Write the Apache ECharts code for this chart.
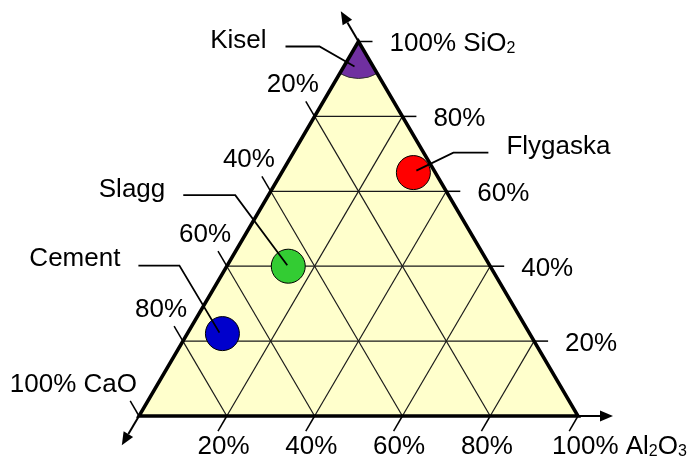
<!DOCTYPE html>
<html><head><meta charset="utf-8">
<script src="https://cdn.jsdelivr.net/npm/echarts@6/dist/echarts.min.js"></script>
<style>html,body{margin:0;padding:0;background:#fff}#c{width:692px;height:459px}</style>
</head><body><div id="c"></div>
<script>
// ---- data ----
const sampleNames = ['Kisel', 'Flygaska', 'Slagg', 'Cement'];
const sio2Values  = [100, 65, 40, 22];
const al2o3Values = [0, 30, 14, 8];
const caoValues   = [0, 5, 46, 70];
const gridLevels  = [20, 40, 60, 80];
const tickLabels  = ['20%', '40%', '60%', '80%'];
const cornerLabels = ['100% SiO{s|2}', '100% Al{s|2}O{s|3}', '100% CaO'];

// ---- styles / layout ----
const sampleColors = ['#7030A0', '#FF0000', '#33CC33', '#0000CC'];
const FONT = "'Liberation Sans', Arial, sans-serif";
const FS = 26;
const leaderLayout = [
  { pts: [[-4, 25], [-39, 5], [-73, 5]], label: [-92, -0.5], align: 'right' },
  { pts: [[3, -2], [40, -20], [75, -20]], label: [93, -26], align: 'left' },
  { pts: [[-1, -1], [-53, -71], [-105, -71]], label: [-123, -76], align: 'right' },
  { pts: [[-3, -1], [-43, -68], [-84, -68]], label: [-102, -75], align: 'right' }
];

// ternary (SiO2, Al2O3) -> cartesian
function tern(s, a) { return [a / 100 + s / 200, s / 100]; }
function unit(p, q) { const dx = q[0] - p[0], dy = q[1] - p[1]; const d = Math.hypot(dx, dy); return [dx / d, dy / d]; }
function add(p, u, l) { return [p[0] + u[0] * l, p[1] + u[1] * l]; }
function seg(p, q, style) { return { type: 'line', shape: { x1: p[0], y1: p[1], x2: q[0], y2: q[1] }, style: style }; }
function txt(x, y, text, align, va) {
  return { type: 'text', style: { x: x, y: y, text: text, fill: '#000', fontSize: FS, fontFamily: FONT,
    align: align, verticalAlign: va || 'middle',
    rich: { s: { fontSize: 16, fontFamily: FONT, fill: '#000', verticalAlign: 'bottom' } } } };
}
function corners(api) {
  return { A: api.coord(tern(100, 0)), L: api.coord(tern(0, 0)), R: api.coord(tern(0, 100)) };
}

function renderBack(params, api) {
  const c = corners(api);
  const kids = [{ type: 'polygon', shape: { points: [c.A, c.L, c.R] }, style: { fill: '#FFFFCC' } }];
  const st = { stroke: '#1a1a1a', lineWidth: 1.2 };
  gridLevels.forEach(k => {
    kids.push(seg(api.coord(tern(k, 0)), api.coord(tern(k, 100 - k)), st));
    kids.push(seg(api.coord(tern(0, k)), api.coord(tern(100 - k, k)), st));
    kids.push(seg(api.coord(tern(0, 100 - k)), api.coord(tern(100 - k, 0)), st));
  });
  return { type: 'group', children: kids };
}

function arrow(from, u, len) {
  const tip = add(from, u, len);
  const base = add(tip, u, -13);
  const n = [-u[1], u[0]];
  return [
    seg(from, base, { stroke: '#000', lineWidth: 2 }),
    { type: 'polygon', shape: { points: [tip, add(base, n, 5.5), add(base, n, -5.5)] }, style: { fill: '#000' } }
  ];
}

function renderFront(params, api) {
  const c = corners(api);
  const kids = [];
  kids.push({ type: 'polygon', shape: { points: [c.A, c.L, c.R] }, style: { fill: 'none', stroke: '#000', lineWidth: 3.5, lineJoin: 'miter' } });
  const uLeftTick = unit(c.R, c.A);   // up-left
  const uBotTick = unit(c.A, c.L);    // down-left
  const tst = { stroke: '#000', lineWidth: 1.5 };
  const levels = gridLevels.concat([100]);
  levels.forEach(k => {
    const pr = api.coord(tern(k, 100 - k));
    kids.push(seg(pr, [pr[0] + 14, pr[1]], tst));
    const pl = api.coord(tern(100 - k, 0));
    kids.push(seg(pl, add(pl, uLeftTick, 17.4), tst));
    const pb = api.coord(tern(0, k));
    kids.push(seg(pb, add(pb, uBotTick, 17.4), tst));
  });
  kids.push.apply(kids, arrow(c.A, uLeftTick, 35));
  kids.push.apply(kids, arrow(c.L, uBotTick, 34));
  kids.push.apply(kids, arrow(c.R, unit(c.L, c.R), 35));
  gridLevels.forEach((k, i) => {
    const pr = api.coord(tern(k, 100 - k));
    kids.push(txt(pr[0] + 31, pr[1] + 2.5, tickLabels[i], 'left'));
    const pl = api.coord(tern(100 - k, 0));
    kids.push(txt(pl[0] - 21.8, pl[1] - 31.5, tickLabels[i], 'center'));
    const pb = api.coord(tern(0, k));
    kids.push(txt(pb[0] - 3.3, pb[1] + 30.5, tickLabels[i], 'center'));
  });
  kids.push(txt(c.A[0] + 31, c.A[1] + 2.5, cornerLabels[0], 'left'));
  kids.push(txt(c.R[0] - 26, c.R[1] + 31, cornerLabels[1], 'left'));
  kids.push(txt(c.L[0] - 2, c.L[1] - 31.5, cornerLabels[2], 'right'));
  return { type: 'group', children: kids };
}

const pointData = sampleNames.map((n, i) => ({
  name: n, value: tern(sio2Values[i], al2o3Values[i]).concat([caoValues[i]]),
  itemStyle: { color: sampleColors[i] }
}));

function renderVertexSample(params, api) {
  const i = params.dataIndex;
  if (sio2Values[i] < 100) return null;
  const c = corners(api);
  const p = api.coord([api.value(0), api.value(1)]);
  const uR = unit(c.A, c.R), uL = unit(c.A, c.L);
  return { type: 'sector', shape: { cx: p[0], cy: p[1], r0: 0, r: 37,
    startAngle: Math.atan2(uR[1], uR[0]), endAngle: Math.atan2(uL[1], uL[0]), clockwise: true },
    style: { fill: sampleColors[i], stroke: '#333', lineWidth: 1 } };
}

function renderLeader(params, api) {
  const i = params.dataIndex;
  const p = api.coord([api.value(0), api.value(1)]);
  const lay = leaderLayout[i];
  const pts = lay.pts.map(q => [p[0] + q[0], p[1] + q[1]]);
  return { type: 'group', children: [
    { type: 'polyline', shape: { points: pts }, style: { stroke: '#000', lineWidth: 1.8, fill: null } },
    txt(p[0] + lay.label[0], p[1] + lay.label[1], sampleNames[i], lay.align)
  ] };
}

const chart = echarts.init(document.getElementById('c'), null, { renderer: 'canvas' });
chart.setOption({
  animation: false,
  backgroundColor: '#fff',
  grid: { left: 139, top: 41.5, width: 439, height: 374.5, containLabel: false },
  xAxis: { type: 'value', min: 0, max: 1, show: false },
  yAxis: { type: 'value', min: 0, max: 1, show: false },
  series: [
    { type: 'custom', z: 1, silent: true, renderItem: renderBack, data: [[0, 0]], clip: false },
    { type: 'custom', z: 2, silent: true, renderItem: renderVertexSample, data: pointData, clip: false },
    { type: 'custom', z: 3, silent: true, renderItem: renderFront, data: [[0, 0]], clip: false },
    { type: 'scatter', z: 4, silent: true, symbolSize: 34,
      itemStyle: { borderColor: '#000', borderWidth: 1, opacity: 1 },
      data: pointData.filter((d, i) => sio2Values[i] < 100) },
    { type: 'custom', z: 5, silent: true, renderItem: renderLeader, data: pointData, clip: false }
  ]
});
</script></body></html>
